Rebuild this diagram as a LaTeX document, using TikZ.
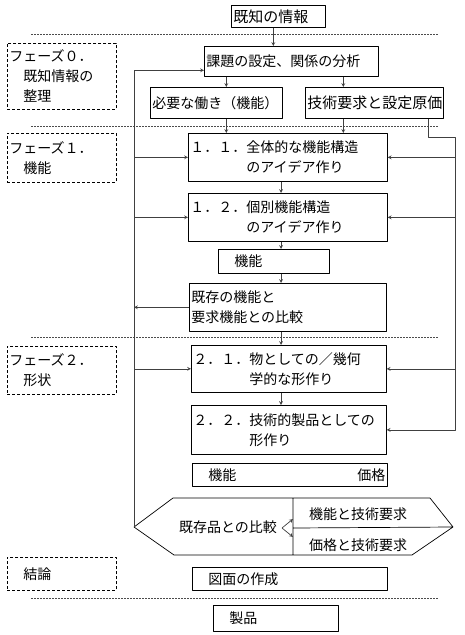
\documentclass[tikz,border=0pt]{standalone}
\usepackage{fontspec}
\newfontfamily\jp{Noto Sans CJK JP}
\begin{document}
\begin{tikzpicture}[>=stealth,line join=round,x=1pt,y=-1pt,
	font=\jp\fontsize{14}{20}\selectfont,
	box/.style={draw,line width=.7pt,anchor=north west,align=left,inner xsep=2pt,inner ysep=0pt},
	wide/.style={font=\jp\fontsize{15}{20}\selectfont},
	phase/.style={box,dash pattern=on 3pt off 2pt},
	sep/.style={dash pattern=on 2pt off 1pt,line width=.7pt,black!70},
	link/.style={->,line width=.7pt,black!75}]
	\useasboundingbox (0,0) rectangle (464,635);
	\path
	(134,527)coordinate (hexL)
	(173,498)coordinate (hexA)
	(430,498)coordinate (hexB)
	(453,527)coordinate (hexR)
	(412,555)coordinate (hexC)
	(174,555)coordinate (hexD)
	(293,498)coordinate (divT)
	(293,555)coordinate (divB)
	(293,528)coordinate (divM)
	(282,528)coordinate (apex)
	(293,519)coordinate (fa)
	(293,537)coordinate (pa)
	(455,137)coordinate (R)
	(281,0)coordinate (mid)
		;
	% separators
	\foreach \y in {34,126,337,598} \draw[sep] (31,\y)--(438,\y);
	% phases
	\node[phase,text width=105pt,minimum height=66pt] (ph0) at (7,43) {フェーズ０．\\\hspace*{1em}既知情報の\\\hspace*{1em}整理};
	\node[phase,text width=105pt,minimum height=49pt] (ph1) at (7,133) {フェーズ１．\\\hspace*{1em}機能};
	\node[phase,text width=105pt,minimum height=48pt] (ph2) at (7,346) {フェーズ２．\\\hspace*{1em}形状};
	\node[phase,text width=105pt,minimum height=33pt] (ph3) at (7,557) {\hspace*{1em}結論};
	% steps
	\node[box,wide,text width=90pt,minimum height=22pt] (info) at (231,5) {既知の情報};
	\node[box,text width=170pt,minimum height=30pt] (task) at (204,46) {課題の設定、関係の分析};
	\node[box,text width=128pt,minimum height=31pt] (need) at (150,87) {必要な働き（機能）};
	\node[box,wide,text width=134pt,minimum height=31pt] (tech) at (305,87) {技術要求と設定原価};
	\node[box,text width=195pt,minimum height=48pt] (p11) at (188,133) {１．１．全体的な機能構造\\\hspace*{4em}のアイデア作り};
	\node[box,text width=195pt,minimum height=48pt] (p12) at (188,193) {１．２．個別機能構造\\\hspace*{4em}のアイデア作り};
	\node[box,text width=107pt,minimum height=24pt] (func) at (218,249) {\hspace*{1em}機能};
	\node[box,text width=193pt,minimum height=48pt] (cmp) at (189,283) {既存の機能と\\要求機能との比較};
	\node[box,text width=191pt,minimum height=47pt] (p21) at (191,345) {２．１．物としての／幾何\\\hspace*{4em}学的な形作り};
	\node[box,text width=191pt,minimum height=49pt] (p22) at (191,405) {２．２．技術的製品としての\\\hspace*{4em}形作り};
	\node[box,text width=191pt,minimum height=23pt] (fp) at (192,463) {\hspace*{1em}機能\hfill 価格\hspace*{1em}};
	\node[box,text width=191pt,minimum height=23pt] (dwg) at (192,567) {\hspace*{1em}図面の作成};
	\node[box,text width=121pt,minimum height=26pt] (prod) at (213,605) {\hspace*{1em}製品};
	% comparison
	\draw[line width=.7pt] (hexL)--(hexA)--(hexB)--(hexR)--(hexC)--(hexD)--cycle (divT)--(divB) (divM)--(hexR);
	\node (old) at (228,527) {既存品との比較};
	\node (ft) at (358,514) {機能と技術要求};
	\node (pt) at (358,545) {価格と技術要求};
	\foreach \p in {fa,pa} \draw[link] (apex)--(\p);
	% arrows
	\draw[link] ([xshift=-5pt]info.south)--([xshift=-5pt]info.south |- task.north);
	\draw[link] ([xshift=10pt]need.north |- task.south)--([xshift=10pt]need.north);
	\draw[link] ([xshift=-31pt]tech.north |- task.south)--([xshift=-31pt]tech.north);
	\draw[link] ([xshift=10pt]need.south)--([xshift=10pt]need.south |- p11.north);
	\draw[link] ([xshift=-31pt]tech.south)--([xshift=-31pt]tech.south |- p11.north);
	\foreach \a/\b in {p11/p12,p12/func,func/cmp,cmp/p21,p21/p22} \draw[link] (\a.south -| mid)--(\b.north -| mid);
	% feedback loops
	\draw[link] (hexL) |- ([yshift=-9pt]task.west);
	\foreach \n in {p11,p12,p21} \draw[link] (hexL |- \n.west)--(\n.west);
	\draw[link] (cmp.west)--(hexL |- cmp.west);
	\draw[link] ([xshift=-15pt]tech.south east) |- (R) |- (p22.east);
	\foreach \n in {p11,p12,p21} \draw[link] (R |- \n.east)--(\n.east);
\end{tikzpicture}
\end{document}
